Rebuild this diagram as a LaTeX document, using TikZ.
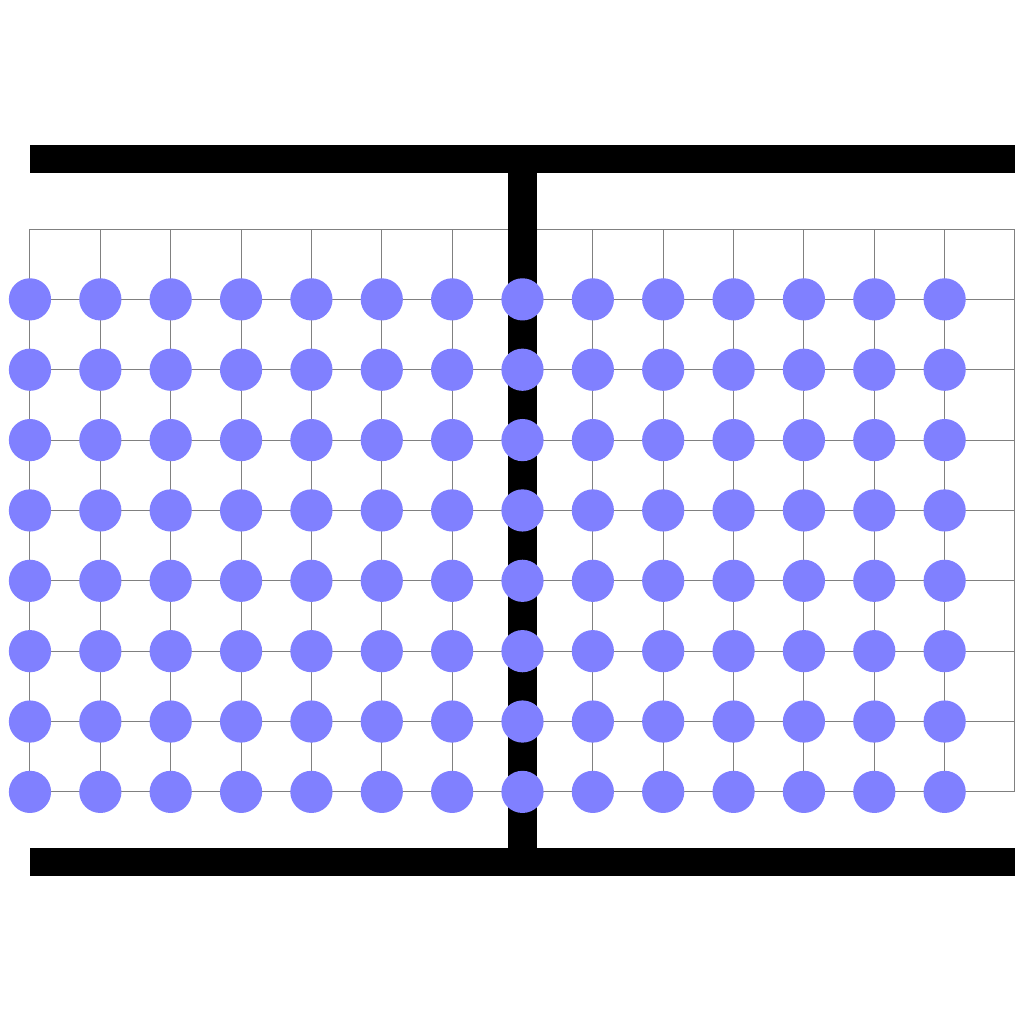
\documentclass[tikz,border=0pt]{standalone}
\usepackage{xcolor}
\usepackage{tikz}

\begin{document}
\begin{tikzpicture}[
        gridline/.style={draw=gray, line width=0.4pt},
        wall/.style={fill=black},
        site/.style={circle, fill=blue!50, inner sep=0pt, minimum size=0.6cm}
    ]
    \useasboundingbox (-0.426,-3.283) rectangle (14.128,11.255);
    % lattice
    \draw[gridline] (0,0) grid (14,8);
    % barrier
    \fill[wall] (0,8.8) rectangle (14,9.2);
    \fill[wall] (0,-1.2) rectangle (14,-0.8);
    \fill[wall] (6.8,-0.8) rectangle (7.2,8.8);
    % sites
    \foreach \i in {0,...,13}
        \foreach \j in {0,...,7}
            \node[site] (s-\i-\j) at (\i,\j) {};
\end{tikzpicture}
\end{document}
